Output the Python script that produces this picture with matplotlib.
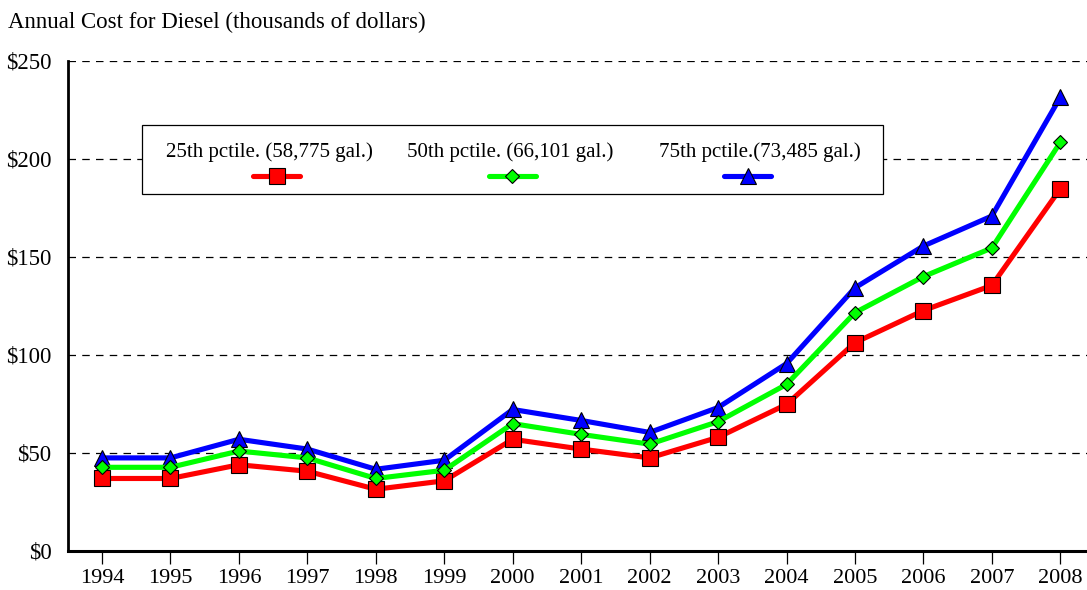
import matplotlib.pyplot as plt
from matplotlib.patches import Rectangle
from matplotlib.lines import Line2D

plt.rcParams['font.family'] = ['Liberation Serif', 'DejaVu Serif']

years = list(range(1994, 2009))
p25 = [37, 37, 44, 40.7, 31.5, 35.8, 57, 52, 47.5, 58, 74.8, 106.3, 122.7, 135.5, 184.8]
p50 = [42.7, 42.7, 51, 47.5, 37, 41.2, 65, 59.5, 54.5, 66, 85, 121.6, 140, 154.6, 208.5]
p75 = [47.5, 47.5, 57, 52, 41.7, 46.3, 72.2, 66.6, 60.5, 73.2, 95.6, 134.3, 155.6, 170.9, 231.5]
labels = ['25th pctile. (58,775 gal.)', '50th pctile. (66,101 gal.)', '75th pctile.(73,485 gal.)']
yticks = [0, 50, 100, 150, 200, 250]

fig = plt.figure(figsize=(10.87, 5.90), dpi=100)
ax = fig.add_axes([68 / 1087, 1 - 551 / 590, 1 - 68 / 1087, (551 - 61) / 590])

for v in yticks[1:]:
    ax.axhline(v, color='black', linestyle=(0, (6, 5)), linewidth=0.9, zorder=0)

styles = [
    dict(color='#ff0000', marker='s', markersize=12, mfc='#ff0000'),
    dict(color='#0000ff', marker='^', markersize=12, mfc='#0000ff'),
    dict(color='#00ff00', marker='D', markersize=7.5, mfc='#00ff00'),
]
series = [p25, p75, p50]
for vals, st in zip(series, styles):
    ax.plot(years, vals, color=st['color'], linewidth=3.7, marker=st['marker'],
            markersize=st['markersize'], markerfacecolor=st['mfc'],
            markeredgecolor='black', markeredgewidth=0.8, zorder=3)

ax.set_xlim(1993.503, 2008.39)
ax.set_ylim(0, 250)
ax.set_xticks(years)
ax.set_xticklabels([str(y) for y in years], fontsize=16)
ax.set_yticks(yticks)
ax.set_yticklabels(['$' + str(v) for v in yticks], fontsize=16.5)
ax.tick_params(axis='y', length=0, pad=12)
ax.tick_params(axis='x', length=9, width=0.9, direction='out', pad=4)
ax.spines['top'].set_visible(False)
ax.spines['right'].set_visible(False)
ax.spines['left'].set_linewidth(2)
ax.spines['bottom'].set_linewidth(2.2)

# custom legend box: text above sample line
ax.add_patch(Rectangle((0.073, 0.728), 0.7265, 0.142, transform=ax.transAxes,
                       facecolor='white', edgecolor='black', linewidth=0.9, zorder=5))
leg_x = [0.198, 0.434, 0.679]
marker_x = [0.205, 0.436, 0.667]
leg_styles = [styles[0], styles[2], styles[1]]
for lx, mx, lab, st in zip(leg_x, marker_x, labels, leg_styles):
    ax.text(lx, 0.815, lab, transform=ax.transAxes, ha='center', va='center',
            fontsize=15, zorder=6)
    ax.add_line(Line2D([mx - 0.023, mx + 0.023], [0.765, 0.765], transform=ax.transAxes,
                       color=st['color'], linewidth=3.7, solid_capstyle='round', zorder=6))
    ax.add_line(Line2D([mx], [0.765], transform=ax.transAxes, marker=st['marker'],
                       markersize=st['markersize'], markerfacecolor=st['mfc'],
                       markeredgecolor='black', markeredgewidth=0.8, zorder=7))

fig.text(8 / 1087, 1 - 22 / 590, 'Annual Cost for Diesel (thousands of dollars)',
         ha='left', va='center', fontsize=16.5)

fig.savefig('out.png', dpi=100)
